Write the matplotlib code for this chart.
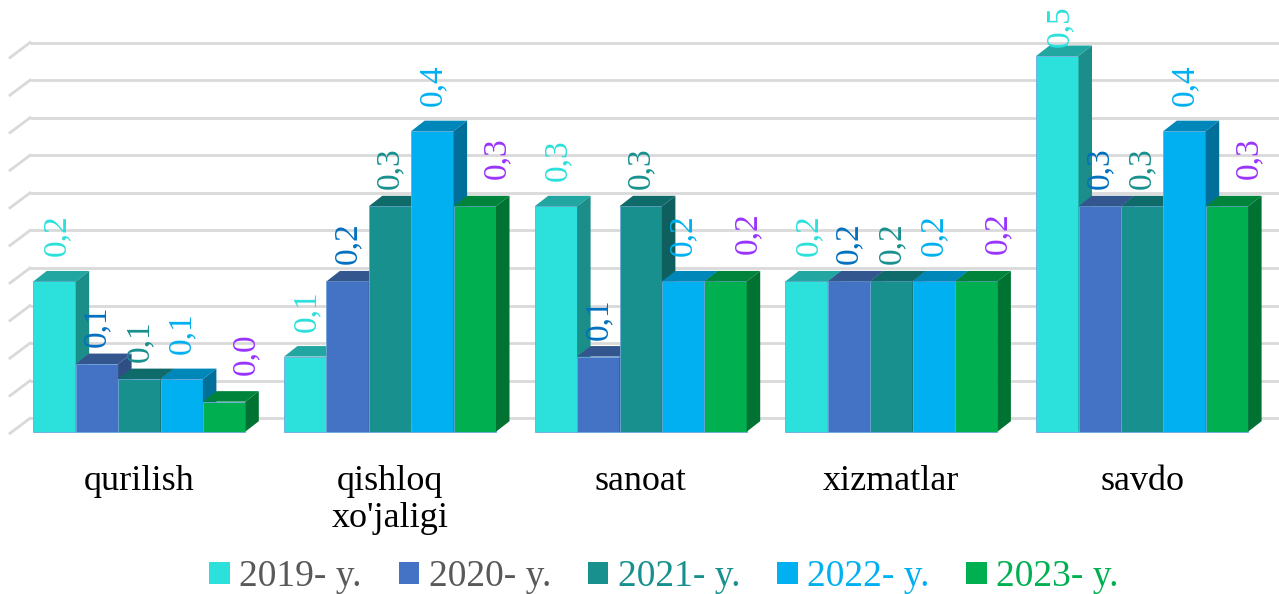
import matplotlib
matplotlib.use("Agg")
import matplotlib.pyplot as plt
from matplotlib.patches import Polygon, Patch

plt.rcParams["font.family"] = ["Liberation Serif", "DejaVu Serif"]

# --- Data -------------------------------------------------------------------
CATEGORIES = ["qurilish", "qishloq\nxo'jaligi", "sanoat", "xizmatlar", "savdo"]
SERIES = ["2019- y.", "2020- y.", "2021- y.", "2022- y.", "2023- y."]
V2019 = [0.20, 0.10, 0.30, 0.20, 0.50]
V2020 = [0.09, 0.20, 0.10, 0.20, 0.30]
V2021 = [0.07, 0.30, 0.30, 0.20, 0.30]
V2022 = [0.07, 0.40, 0.20, 0.20, 0.40]
V2023 = [0.04, 0.30, 0.20, 0.20, 0.30]
VALUES = [V2019, V2020, V2021, V2022, V2023]
GRID_STEPS = [0.05 * k for k in range(11)]

# --- Style ------------------------------------------------------------------
FRONT = ["#2CE0DC", "#4472C4", "#17908E", "#00B0F0", "#00B050"]
TOP = ["#22A6A2", "#34568F", "#0F6B69", "#0087B9", "#00843C"]
SIDE = ["#1B8E8A", "#2F4E86", "#0E5F5D", "#00709A", "#007232"]
LABEL_COL = ["#2CE0DC", "#0070C0", "#17908E", "#00B0F0", "#9933FF"]
LEGEND_COL = ["#595959", "#595959", "#17908E", "#00B0F0", "#00B050"]
LABEL_GAP_PX = [25, 17, 17, 25, 27]
LABEL_SHIFT_PX = [2, 0, 0, 0, 22]
LABEL_LEN_PX = 41

W_PX, H_PX = 1279, 594
X0, UX = 139.3, 250.7      # pixel of first group centre, px per category
Y0, UY = 431.7, 751.4      # pixel of value 0 (front), px per unit value


def px_dx(p):
    return p / UX


def px_dy(p):
    return p / UY


fig = plt.figure(figsize=(W_PX / 100, H_PX / 100), dpi=100)
ax = fig.add_axes([0, 0, 1, 1])
ax.set_xlim(-X0 / UX, (W_PX - X0) / UX)
ax.set_ylim(-(H_PX - Y0) / UY, Y0 / UY)
ax.axis("off")
y_top = ax.get_ylim()[1]

# back wall gridlines + left wall diagonals
gy = px_dy(13.4)
wall_x = px_dx(30 - X0)
for v in GRID_STEPS:
    ax.plot([wall_x, ax.get_xlim()[1]], [v + gy, v + gy], color="#D9D9D9",
            lw=2, zorder=0, solid_capstyle="butt")
    ax.plot([px_dx(10 - X0), wall_x], [v + gy - px_dy(15), v + gy],
            color="#D9D9D9", lw=2, zorder=0)

bw = px_dx(42.4)
dx, dy = px_dx(13.5), px_dy(10.5)
group_left = -2.5 * bw

for ci in range(len(CATEGORIES)):
    for si, vals in enumerate(VALUES):
        h = vals[ci]
        x = ci + group_left + si * bw
        z = 2 + ci * 10 + si
        ax.bar(x, h, width=bw, align="edge", color=FRONT[si],
               edgecolor="#6FA8DC", linewidth=0.6, zorder=z)
        ax.add_patch(Polygon([(x, h), (x + bw, h), (x + bw + dx, h + dy),
                              (x + dx, h + dy)], closed=True,
                             facecolor=TOP[si], edgecolor="none", zorder=z))
        ax.add_patch(Polygon([(x + bw, 0), (x + bw + dx, dy),
                              (x + bw + dx, h + dy), (x + bw, h)], closed=True,
                             facecolor=SIDE[si], edgecolor="none", zorder=z))
        ly = min(h + px_dy(LABEL_GAP_PX[si]), y_top - px_dy(LABEL_LEN_PX + 6))
        ax.text(x + bw / 2 + px_dx(LABEL_SHIFT_PX[si]), ly,
                f"{h:.1f}".replace(".", ","), rotation=90, ha="center",
                va="bottom", fontsize=24, color=LABEL_COL[si], zorder=200)

for ci, name in enumerate(CATEGORIES):
    ax.text(ci, -px_dy(465 - Y0), name, ha="center", va="top", fontsize=26,
            color="black", linespacing=1.15)

handles = [Patch(facecolor=c, edgecolor="none") for c in FRONT]
fig.legend(handles, SERIES, loc="center", bbox_to_anchor=(664 / W_PX, 1 - 577 / H_PX),
           ncol=5, frameon=False, fontsize=27, labelcolor=LEGEND_COL,
           handlelength=0.55, handleheight=0.55, handletextpad=0.25,
           columnspacing=0.98, borderpad=0)

fig.savefig("out.png", dpi=100)
